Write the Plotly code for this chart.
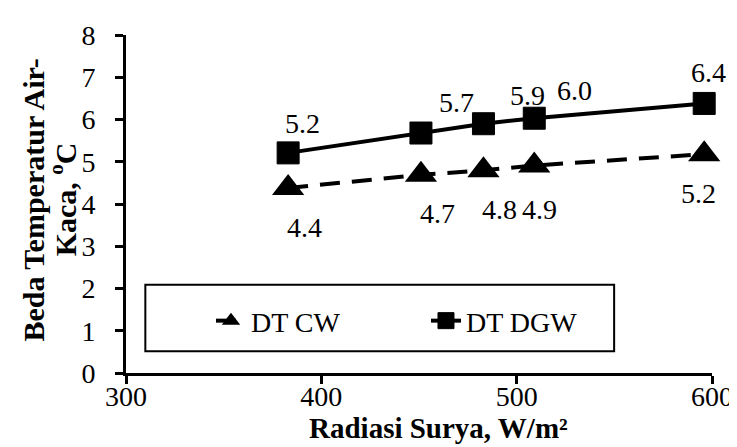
import plotly.graph_objects as go

radiasi = [383, 451, 483, 509, 596]
dt_cw = [4.38, 4.69, 4.80, 4.91, 5.18]
dt_dgw = [5.21, 5.68, 5.90, 6.03, 6.38]

x_ticks = [300, 400, 500, 600]
y_ticks = [0, 1, 2, 3, 4, 5, 6, 7, 8]

# label offsets (px) copied from the chart's hand-placed labels
cw_shift = [(16, -40), (17, -39), (16, -39), (5, -44), (-6, -39)]
dgw_shift = [(14, 29), (36, 31), (44, 28), (40, 28), (4, 31)]

FONT = "Palatino Linotype, Book Antiqua, Palatino, Liberation Serif, serif"

fig = go.Figure()
fig.add_trace(go.Scatter(
    x=radiasi, y=dt_cw, name="DT CW", mode="lines+markers",
    line=dict(color="black", width=4, dash="20px,12px"),
    marker=dict(symbol="triangle-up", size=28, color="black"),
    cliponaxis=False,
))
fig.add_trace(go.Scatter(
    x=radiasi, y=dt_dgw, name="DT DGW", mode="lines+markers",
    line=dict(color="black", width=4),
    marker=dict(symbol="square", size=22, color="black",
                line=dict(color="black", width=1)),
    cliponaxis=False,
))

for xs, ys, shifts in [(radiasi, dt_cw, cw_shift), (radiasi, dt_dgw, dgw_shift)]:
    for xv, yv, (dx, dy) in zip(xs, ys, shifts):
        fig.add_annotation(x=xv, y=yv, text=f"{yv:.1f}", showarrow=False,
                           xshift=dx, yshift=dy,
                           font=dict(family=FONT, size=28, color="black"))

fig.add_annotation(xref="paper", yref="paper", x=0.533, y=-0.163,
                   xanchor="center", yanchor="middle",
                   text="<b>Radiasi Surya, W/m²</b>", showarrow=False,
                   font=dict(family=FONT, size=29, color="black"))
# y title as two rotated lines
for xp, line_text in [(-0.157, "<b>Beda Temperatur Air-</b>"),
                      (-0.108, "<b>Kaca, <sup>o</sup>C</b>")]:
    fig.add_annotation(xref="paper", yref="paper", x=xp, y=0.513,
                       xanchor="center", yanchor="middle",
                       text=line_text, showarrow=False, textangle=-90,
                       font=dict(family=FONT, size=30, color="black"))

# legend frame
fig.add_shape(type="rect", xref="paper", yref="paper",
              x0=0.033, x1=0.833, y0=0.064, y1=0.261,
              line=dict(color="black", width=2), fillcolor="white", layer="below")

fig.update_layout(
    width=737, height=447,
    margin=dict(l=118, r=29, t=20, b=82),
    paper_bgcolor="white", plot_bgcolor="rgba(0,0,0,0)",
    font=dict(family=FONT, size=28, color="black"),
    showlegend=True,
    legend=dict(orientation="h", x=0.145, y=0.154, xanchor="left", yanchor="middle",
                bgcolor="rgba(0,0,0,0)", borderwidth=0, entrywidth=170,
                font=dict(family=FONT, size=28, color="black")),
    xaxis=dict(range=[300, 600], tickvals=x_ticks, showgrid=False, zeroline=False,
               showline=True, linecolor="black", linewidth=3,
               ticks="outside", ticklen=8, tickwidth=3, tickcolor="black",
               ticklabelstandoff=-12),
    yaxis=dict(range=[0, 8], tickvals=y_ticks, showgrid=False, zeroline=False,
               showline=True, linecolor="black", linewidth=3,
               ticks="outside", ticklen=8, tickwidth=3, tickcolor="black",
               ticklabelstandoff=14),
)

fig.write_html("out.html")
